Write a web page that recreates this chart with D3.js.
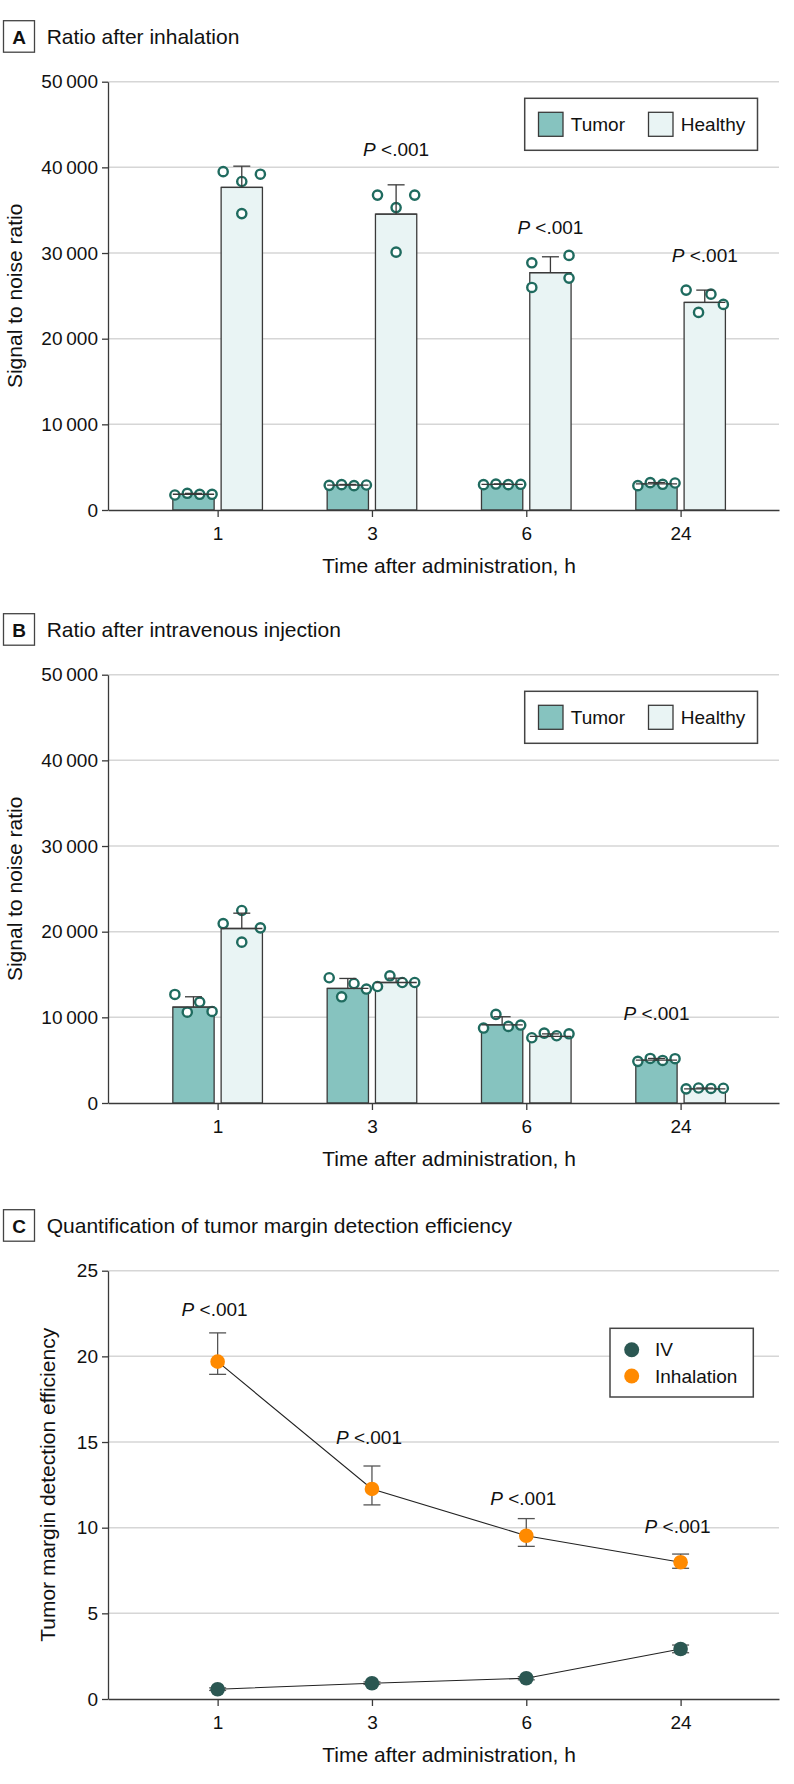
<!DOCTYPE html>
<html><head><meta charset="utf-8">
<script src="https://cdn.jsdelivr.net/npm/d3@7"></script>
<style>
body{margin:0;background:#fff;}
svg{display:block;font-family:"Liberation Sans", Arial, sans-serif;}
</style></head><body>
<svg id="chart" width="794" height="1784"></svg>
<script>
// ---------------- DATA ----------------
const categories = ["1", "3", "6", "24"];
const barSeries = ["Tumor", "Healthy"];
const lineSeries = ["IV", "Inhalation"];
const barTicks = [0, 10000, 20000, 30000, 40000, 50000];
const effTicks = [0, 5, 10, 15, 20, 25];

// Panel A: ratio after inhalation
const tumorA = [1840, 2900, 2980, 3050];
const tumorAErr = [100, 80, 70, 150];
const healthyA = [37660, 34540, 27700, 24230];
const healthyAErr = [2480, 3420, 1860, 1440];
const tumorAPoints = [[1750, 1950, 1830, 1830], [2880, 2960, 2840, 2920], [2960, 3030, 2960, 3000], [2840, 3190, 3000, 3150]];
const healthyAPoints = [[39500, 38350, 39200, 34600], [36760, 35300, 36760, 30100], [28860, 25980, 29720, 27070], [25670, 23070, 25200, 24000]];
const pLabelsA = [null, 41300, 32200, 29000]; // over Healthy bars

// Panel B: ratio after intravenous injection
const tumorB = [11200, 13370, 9130, 5000];
const tumorBErr = [1200, 1170, 940, 200];
const healthyB = [20370, 14070, 7770, 1650];
const healthyBErr = [1790, 500, 300, 100];
const tumorBPoints = [[12670, 10600, 11780, 10690], [14620, 12400, 13950, 13300], [8750, 10350, 8940, 9100], [4860, 5200, 4970, 5170]];
const healthyBPoints = [[18780, 20950, 22470, 20450], [13600, 14850, 14070, 14070], [7620, 8160, 7850, 8080], [1650, 1750, 1700, 1720]];
const pLabelsB = [null, null, null, 9720]; // over Tumor bars

// Panel C: tumor margin detection efficiency
const ivMean = [0.57, 0.92, 1.21, 2.92];
const ivUpper = [0.65, 1.0, 1.3, 3.15];
const ivLower = [0.5, 0.85, 1.12, 2.7];
const inhMean = [19.69, 12.26, 9.53, 7.98];
const inhUpper = [21.37, 13.6, 10.53, 8.46];
const inhLower = [18.95, 11.33, 8.91, 7.63];
const pLabelsC = [22.36, 14.87, 11.33, 9.67];

// ---------------- STYLE / LAYOUT ----------------
const COL = {
  tumor: "#86c3bf", healthy: "#e9f4f4", barStroke: "#3a3a3a",
  point: "#1f6b5f", iv: "#2b5752", inh: "#ff8a00",
  grid: "#d6d6d6", axis: "#3a3a3a", err: "#555", text: "#111"
};
const left = 108, right = 779, plotH = 428.3;
const svg = d3.select("#chart");
const x = d3.scalePoint().domain(categories).range([left, right]).padding(0.674).align(0.527);
const barW = 41.3, barGap = 7, spreadHalf = 18.6;
const fmt = v => d3.format(",")(v).replace(/,/g, "\u2009");

function panelHeader(top, letter, title) {
  const g = svg.append("g");
  const by = top - 61;
  g.append("rect").attr("x", 3.5).attr("y", by).attr("width", 31).attr("height", 31.5)
    .attr("fill", "none").attr("stroke", "#444").attr("stroke-width", 1.3);
  g.append("text").attr("x", 19).attr("y", by + 23).attr("text-anchor", "middle")
    .attr("font-size", 19).attr("font-weight", "bold").attr("fill", COL.text).text(letter);
  g.append("text").attr("x", 46.7).attr("y", by + 23.6)
    .attr("font-size", 21).attr("fill", COL.text).text(title);
}

function axesAndGrid(top, y, ticks, tickFmt, yTitle, yTitleX) {
  const g = svg.append("g");
  g.selectAll("line.grid").data(ticks.filter(t => t !== 0)).join("line")
    .attr("x1", left).attr("x2", right).attr("y1", d => y(d)).attr("y2", d => y(d))
    .attr("stroke", COL.grid).attr("stroke-width", 1.5);
  return g;
}

function drawAxes(top, y, ticks, tickFmt, yTitle, yTitleX) {
  const ya = svg.append("g").attr("transform", `translate(${left},0)`)
    .call(d3.axisLeft(y).tickValues(ticks).tickFormat(tickFmt).tickSize(6).tickPadding(4).tickSizeOuter(0));
  ya.select(".domain").attr("stroke", COL.axis).attr("stroke-width", 1.3);
  ya.selectAll(".tick line").attr("stroke", COL.axis).attr("stroke-width", 1.3);
  ya.selectAll(".tick text").attr("font-size", 19).attr("fill", COL.text).attr("font-family", null);
  const base = y(0);
  const xa = svg.append("g").attr("transform", `translate(0,${base})`)
    .call(d3.axisBottom(x).tickSize(7).tickPadding(10).tickSizeOuter(0));
  xa.select(".domain").attr("stroke", COL.axis).attr("stroke-width", 1.3);
  xa.selectAll(".tick line").attr("stroke", COL.axis).attr("stroke-width", 1.3);
  xa.selectAll(".tick text").attr("font-size", 19).attr("fill", COL.text).attr("font-family", null);
  const mid = (x(categories[0]) + x(categories[categories.length - 1])) / 2;
  svg.append("text").attr("x", mid).attr("y", base + 63).attr("text-anchor", "middle")
    .attr("font-size", 21).attr("fill", COL.text).text("Time after administration, h");
  const yc = (y.range()[0] + y.range()[1]) / 2;
  svg.append("text").attr("transform", `translate(${yTitleX},${yc}) rotate(-90)`)
    .attr("text-anchor", "middle").attr("font-size", 21).attr("fill", COL.text).text(yTitle);
}

function pLabel(g, cx, cy) {
  const t = g.append("text").attr("x", cx).attr("y", cy).attr("text-anchor", "middle")
    .attr("font-size", 19).attr("fill", COL.text);
  t.append("tspan").attr("font-style", "italic").text("P");
  t.append("tspan").text(" <.001");
}

function spreadOffsets(vals, y, thr, half) {
  const idx = vals.map((v, i) => i).sort((a, b) => vals[a] - vals[b]);
  const groups = []; let cur = [idx[0]];
  for (let k = 1; k < idx.length; k++) {
    if (Math.abs(y(vals[idx[k]]) - y(vals[idx[k - 1]])) < thr) cur.push(idx[k]);
    else { groups.push(cur); cur = [idx[k]]; }
  }
  groups.push(cur);
  const off = new Array(vals.length).fill(0);
  groups.forEach(gr => {
    gr.sort((a, b) => a - b);
    const n = gr.length;
    gr.forEach((id, j) => { off[id] = n === 1 ? 0 : -half + j * (2 * half / (n - 1)); });
  });
  return off;
}

function barPanel(top, letter, title, tumor, tumorErr, healthy, healthyErr, tumorPts, healthyPts, pLabs, pOnHealthy) {
  panelHeader(top, letter, title);
  const y = d3.scaleLinear().domain([0, 50000]).range([top + plotH, top]);
  axesAndGrid(top, y, barTicks);
  const groups = [
    {name: "Tumor", mean: tumor, err: tumorErr, pts: tumorPts, fill: COL.tumor, dx: -barGap / 2 - barW},
    {name: "Healthy", mean: healthy, err: healthyErr, pts: healthyPts, fill: COL.healthy, dx: barGap / 2}
  ];
  const g = svg.append("g");
  groups.forEach(s => {
    g.selectAll(null).data(categories).join("rect")
      .attr("x", (c) => x(c) + s.dx).attr("width", barW)
      .attr("y", (c, i) => y(s.mean[i])).attr("height", (c, i) => y(0) - y(s.mean[i]))
      .attr("fill", s.fill).attr("stroke", COL.barStroke).attr("stroke-width", 1.3);
  });
  groups.forEach(s => {
    categories.forEach((c, i) => {
      const cx = x(c) + s.dx + barW / 2;
      const off = spreadOffsets(s.pts[i], y, 11.5, spreadHalf);
      g.selectAll(null).data(s.pts[i]).join("circle")
        .attr("cx", (d, j) => cx + off[j]).attr("cy", d => y(d)).attr("r", 4.6)
        .attr("fill", "#fff").attr("stroke", COL.point).attr("stroke-width", 2.4);
    });
  });
  groups.forEach(s => {
    categories.forEach((c, i) => {
      const x0 = x(c) + s.dx, cx = x0 + barW / 2;
      const yt = y(s.mean[i]), ye = y(s.mean[i] + s.err[i]);
      g.append("line").attr("x1", x0).attr("x2", x0 + barW).attr("y1", yt).attr("y2", yt)
        .attr("stroke", COL.barStroke).attr("stroke-width", 1.3);
      g.append("line").attr("x1", cx).attr("x2", cx).attr("y1", yt).attr("y2", ye)
        .attr("stroke", COL.barStroke).attr("stroke-width", 1.3);
      g.append("line").attr("x1", cx - 8.5).attr("x2", cx + 8.5).attr("y1", ye).attr("y2", ye)
        .attr("stroke", COL.barStroke).attr("stroke-width", 1.3);
    });
  });
  drawAxes(top, y, barTicks, fmt, "Signal to noise ratio", 22);
  const pg = svg.append("g");
  categories.forEach((c, i) => {
    if (pLabs[i] == null) return;
    const cx = x(c) + (pOnHealthy ? barGap / 2 + barW / 2 : -barGap / 2 - barW / 2);
    pLabel(pg, cx, y(pLabs[i]));
  });
  // legend
  const lg = svg.append("g").attr("transform", `translate(524.7,${top + 16.6})`);
  lg.append("rect").attr("width", 232.8).attr("height", 52).attr("fill", "#fff")
    .attr("stroke", "#444").attr("stroke-width", 1.5);
  const legX = [13.8, 123.8];
  barSeries.forEach((n, k) => {
    lg.append("rect").attr("x", legX[k]).attr("y", 14).attr("width", 24.5).attr("height", 24)
      .attr("fill", k === 0 ? COL.tumor : COL.healthy).attr("stroke", COL.barStroke).attr("stroke-width", 1.3);
    lg.append("text").attr("x", legX[k] + 32.3).attr("y", 32.8).attr("font-size", 19)
      .attr("fill", COL.text).text(n);
  });
}

barPanel(81.7, "A", "Ratio after inhalation", tumorA, tumorAErr, healthyA, healthyAErr, tumorAPoints, healthyAPoints, pLabelsA, true);
barPanel(674.7, "B", "Ratio after intravenous injection", tumorB, tumorBErr, healthyB, healthyBErr, tumorBPoints, healthyBPoints, pLabelsB, false);

// Panel C
(function () {
  const top = 1270.7;
  panelHeader(top, "C", "Quantification of tumor margin detection efficiency");
  const y = d3.scaleLinear().domain([0, 25]).range([top + plotH, top]);
  axesAndGrid(top, y, effTicks);
  const g = svg.append("g");
  const series = [
    {name: "IV", mean: ivMean, up: ivUpper, lo: ivLower, col: COL.iv},
    {name: "Inhalation", mean: inhMean, up: inhUpper, lo: inhLower, col: COL.inh}
  ];
  const line = d3.line().x((d, i) => x(categories[i])).y(d => y(d));
  series.forEach(s => {
    g.append("path").attr("d", line(s.mean)).attr("fill", "none").attr("stroke", "#222").attr("stroke-width", 1.1);
    categories.forEach((c, i) => {
      const cx = x(c);
      g.append("line").attr("x1", cx).attr("x2", cx).attr("y1", y(s.lo[i])).attr("y2", y(s.up[i]))
        .attr("stroke", COL.err).attr("stroke-width", 1.3);
      [s.lo[i], s.up[i]].forEach(v => g.append("line").attr("x1", cx - 8.5).attr("x2", cx + 8.5)
        .attr("y1", y(v)).attr("y2", y(v)).attr("stroke", COL.err).attr("stroke-width", 1.3));
    });
    g.selectAll(null).data(s.mean).join("circle")
      .attr("cx", (d, i) => x(categories[i])).attr("cy", d => y(d)).attr("r", 7.3).attr("fill", s.col);
  });
  drawAxes(top, y, effTicks, d3.format("d"), "Tumor margin detection efficiency", 54.5);
  const pg = svg.append("g");
  categories.forEach((c, i) => pLabel(pg, x(c) - 3, y(pLabelsC[i])));
  const lg = svg.append("g").attr("transform", `translate(610,${top + 57.6})`);
  lg.append("rect").attr("width", 143.3).attr("height", 68.7).attr("fill", "#fff")
    .attr("stroke", "#444").attr("stroke-width", 1.5);
  series.forEach((s, k) => {
    lg.append("circle").attr("cx", 21.7).attr("cy", 21.4 + k * 26.3).attr("r", 7.5).attr("fill", s.col);
    lg.append("text").attr("x", 45).attr("y", 21.4 + k * 26.3 + 6.8).attr("font-size", 19)
      .attr("fill", COL.text).text(s.name);
  });
})();
</script>
</body></html>
